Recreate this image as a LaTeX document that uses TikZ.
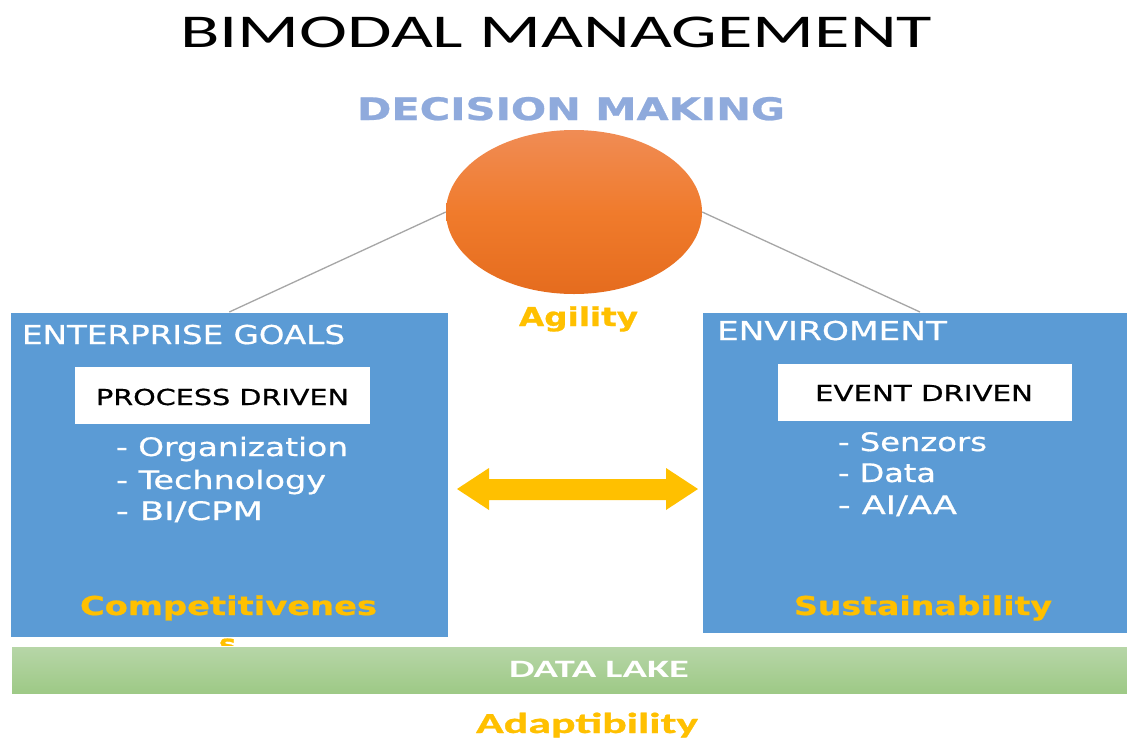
\documentclass[tikz,border=0pt]{standalone}
\usepackage{fontspec}
\setmainfont{DejaVu Sans}
\newfontfamily\calib{Carlito}
\newfontfamily\calibB{Carlito}[BoldFeatures={FakeBold=0.8}]
\newfontfamily\vreg{DejaVu Sans}[FakeBold=0.6]
\newfontfamily\vbold{DejaVu Sans}[BoldFeatures={FakeBold=0.8}]
\usetikzlibrary{shapes.geometric}
\definecolor{boxblue}{HTML}{5B9BD5}
\definecolor{gold}{HTML}{FFC000}
\definecolor{dmblue}{HTML}{8FAADC}
\definecolor{linegray}{HTML}{A6A6A6}
\definecolor{orgtop}{HTML}{F08C55}
\definecolor{orgmid}{HTML}{F07B2C}
\definecolor{orgbot}{HTML}{E56C1E}
\definecolor{grtop}{HTML}{B7D6A8}
\definecolor{grbot}{HTML}{9DC985}
\newcommand{\wfit}[2]{\resizebox{#1}{\height}{#2}}
\tikzset{
  txt/.style={anchor=base west, inner sep=0pt, outer sep=0pt},
  bluebox/.style={draw=white, line width=0.6pt, fill=boxblue, anchor=north west, inner sep=0pt},
  whitebox/.style={fill=white, anchor=north west, inner sep=0pt},
  connector/.style={draw=linegray, line width=1.3pt},
  hdr/.style={txt, text=white, font=\vreg\fontsize{26pt}{30pt}\selectfont},
  sub/.style={txt, text=black, font=\vreg\fontsize{22pt}{26pt}\selectfont},
  item/.style={txt, text=white, font=\vreg\fontsize{25.5pt}{29pt}\selectfont},
  goldtxt/.style={txt, text=gold, font=\vbold\bfseries\fontsize{26pt}{30pt}\selectfont},
}
\begin{document}
\begin{tikzpicture}[x=1pt,y=-1pt]
\useasboundingbox (0,0) rectangle (1127,742);
\clip (0,0) rectangle (1127,742);
\fill[white] (0,0) rectangle (1127,742);

% title
\node[txt, text=black, font=\calib\fontsize{47pt}{50pt}\selectfont] (title) at (180,47) {\wfit{752pt}{BIMODAL MANAGEMENT}};
\node[txt, text=dmblue, font=\vbold\bfseries\fontsize{31pt}{34pt}\selectfont] (dm) at (357,120) {\wfit{428pt}{DECISION MAKING}};

% boxes
\node[bluebox, minimum width=438pt, minimum height=325pt] (left) at (10,312) {};
\node[bluebox, minimum width=425pt, minimum height=321pt] (right) at (702,312) {};

% ellipse
\node[ellipse, minimum width=256pt, minimum height=164pt, inner sep=0pt,
      top color=orgtop, bottom color=orgbot, middle color=orgmid] (agile) at (574,212) {};

% connectors
\draw[connector] (agile.west) -- (left.north);
\draw[connector] (agile.east) -- (920,312);

\node[goldtxt] (agility) at (519,326) {\wfit{119pt}{Agility}};

% double arrow (block shape)
\fill[gold] (457,489) -- (489,468) -- (489,479) -- (666,479) -- (666,468) -- (698,489)
  -- (666,510) -- (666,500) -- (489,500) -- (489,510) -- cycle;

% left content
\node[hdr] (eg) at (22,344) {\wfit{323pt}{ENTERPRISE GOALS}};
\node[whitebox, minimum width=295pt, minimum height=57pt] (pdbox) at (75,367) {};
\node[sub] (pd) at (96,405) {\wfit{253pt}{PROCESS DRIVEN}};
\node[item] (l1) at (116,456) {\wfit{232pt}{- Organization}};
\node[item] (l2) at (116,489) {\wfit{210pt}{- Technology}};
\node[item] (l3) at (116,520) {\wfit{147pt}{- BI/CPM}};
\node[goldtxt] (comp) at (80,615) {\wfit{297pt}{Competitivenes}};
\node[goldtxt] (comps) at (219,653) {\wfit{17pt}{s}};

% right content
\node[hdr] (env) at (717,340) {\wfit{230pt}{ENVIROMENT}};
\node[whitebox, minimum width=294pt, minimum height=57pt] (edbox) at (778,364) {};
\node[sub] (ed) at (815,401) {\wfit{218pt}{EVENT DRIVEN}};
\node[item] (r1) at (838,451) {\wfit{149pt}{- Senzors}};
\node[item] (r2) at (838,482) {\wfit{98pt}{- Data}};
\node[item] (r3) at (838,514) {\wfit{119pt}{- AI/AA}};
\node[goldtxt] (sust) at (794,615) {\wfit{258pt}{Sustainability}};

% data lake
\node[draw=white, line width=0.6pt, top color=grtop, bottom color=grbot, anchor=north west,
      minimum width=1116pt, minimum height=48pt, inner sep=0pt] (lake) at (11,646) {};
\node[txt, text=white, font=\calib\bfseries\fontsize{25pt}{28pt}\selectfont] (lakelbl) at (509,677) {\wfit{180pt}{DATA LAKE}};
\node[txt, text=gold, font=\calibB\bfseries\fontsize{29pt}{32pt}\selectfont] (adapt) at (476,733) {\wfit{222pt}{Adaptibility}};
\end{tikzpicture}
\end{document}
